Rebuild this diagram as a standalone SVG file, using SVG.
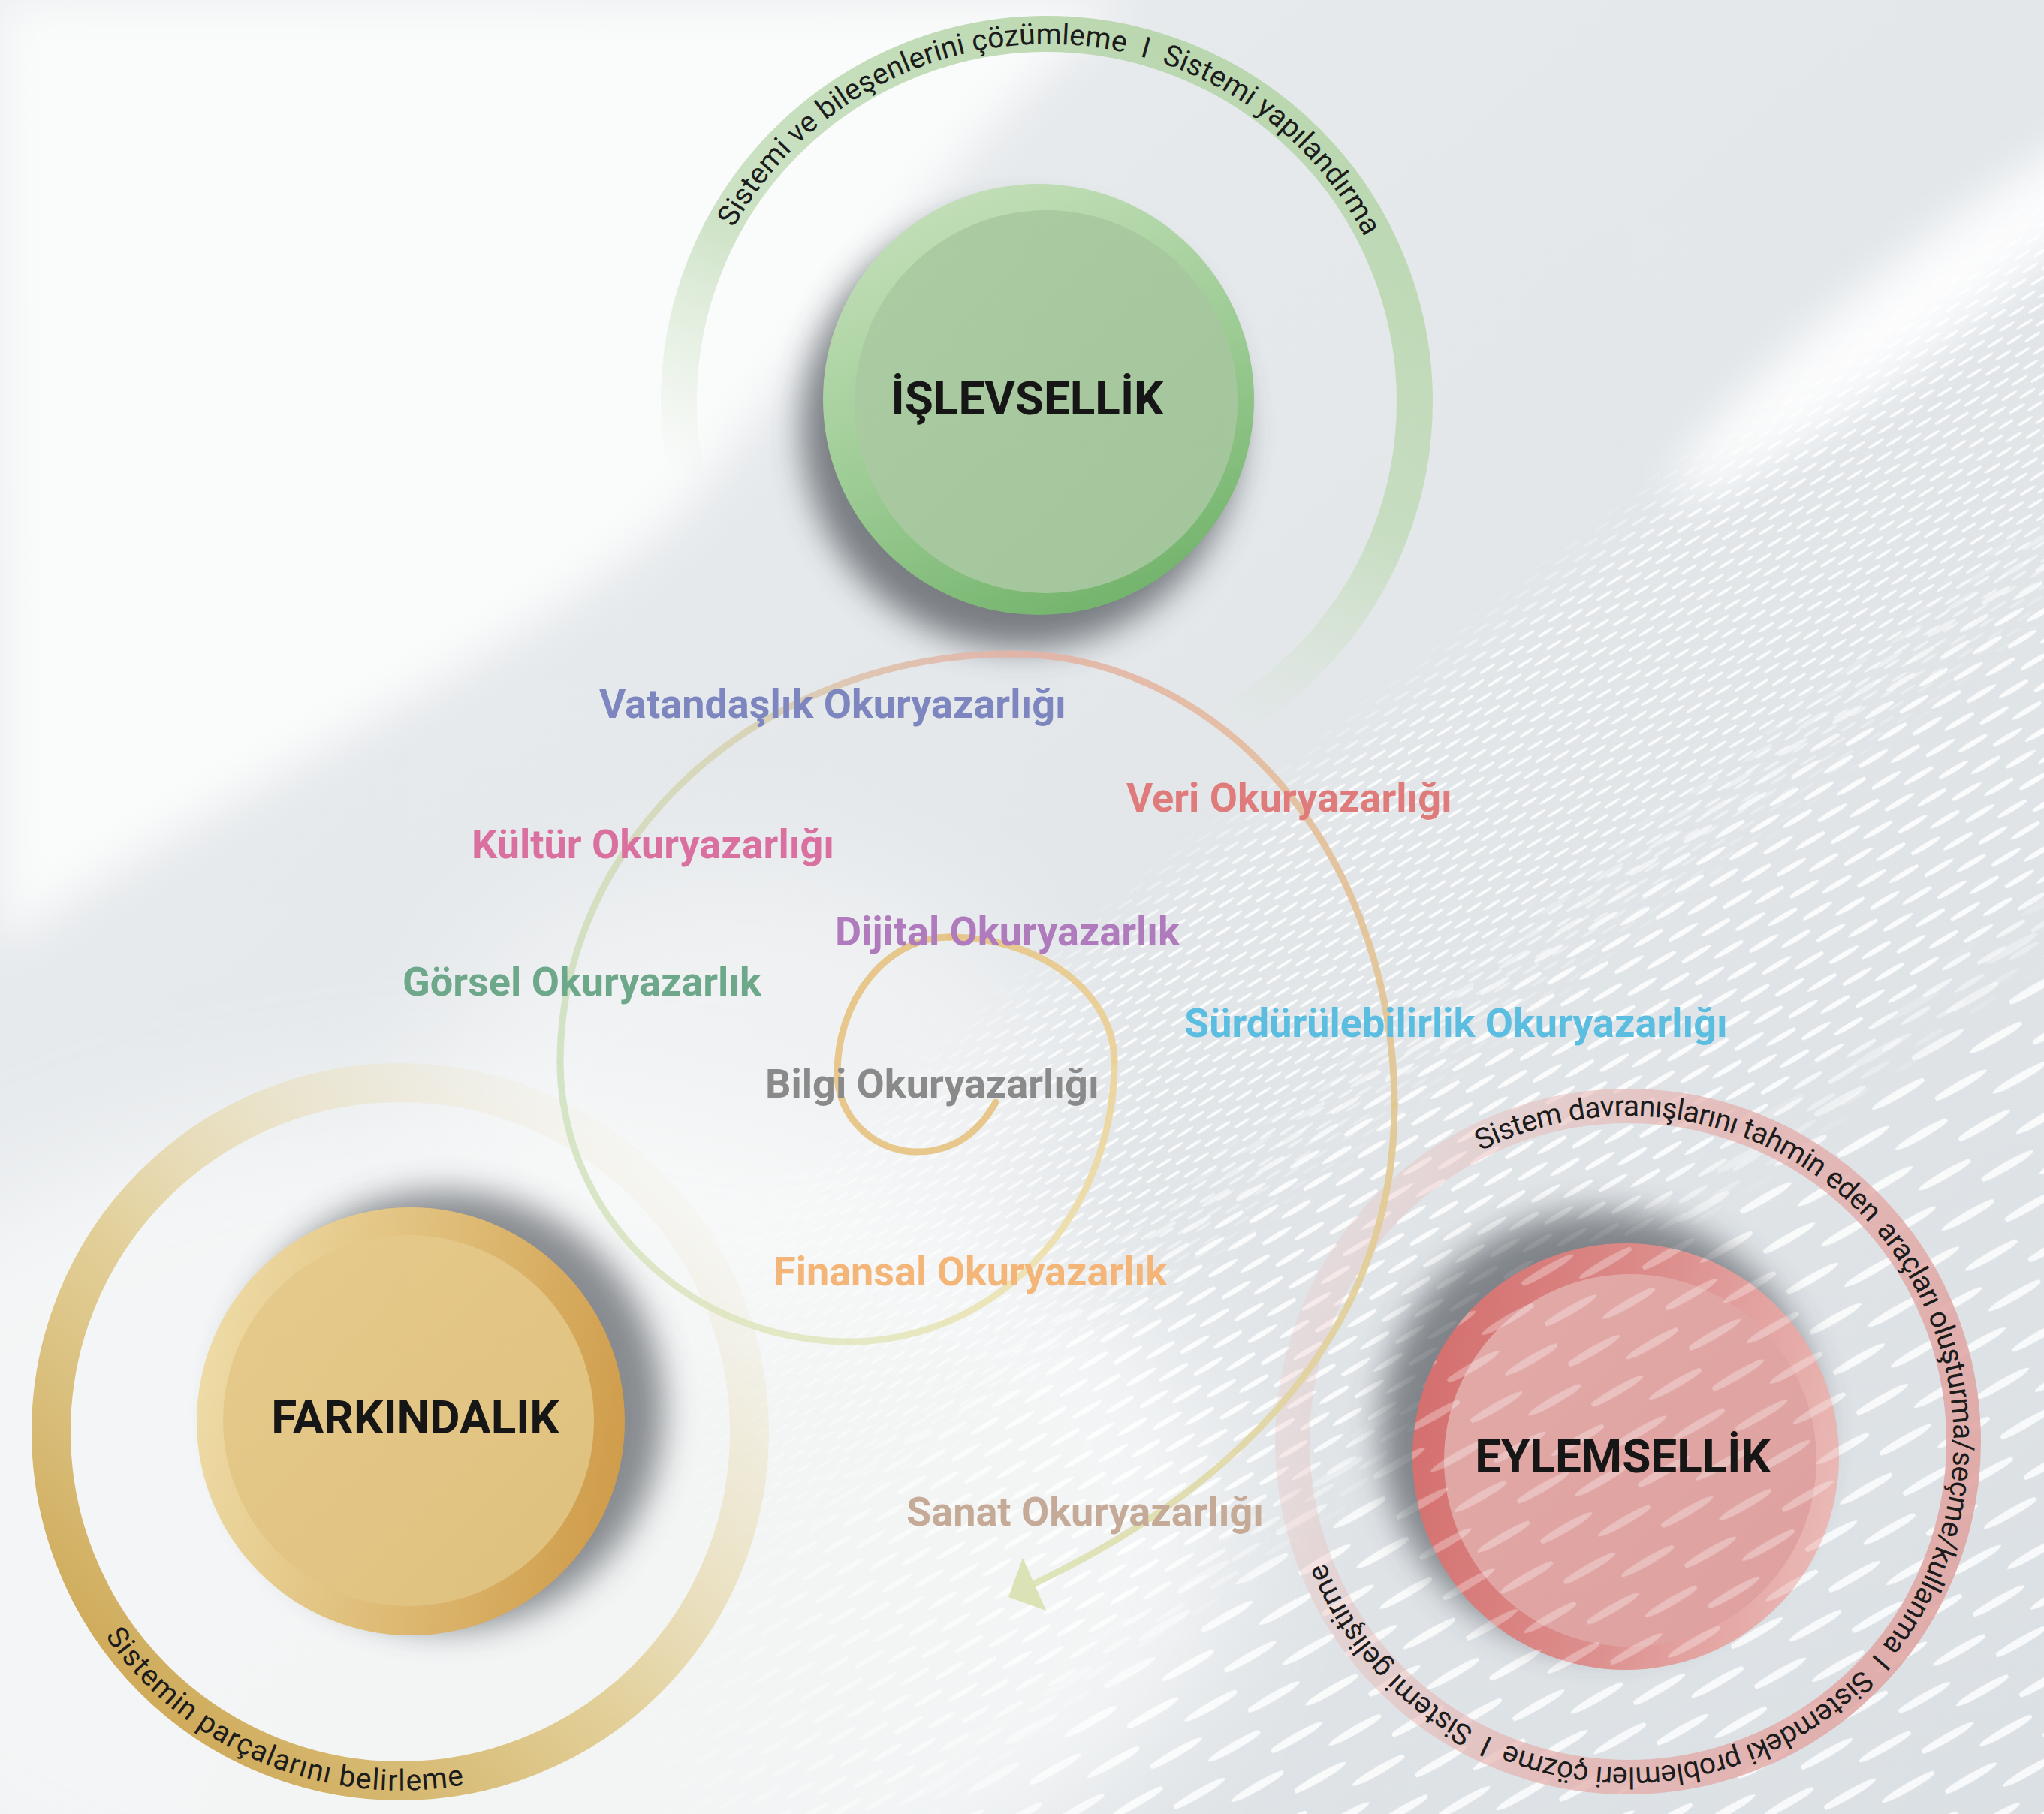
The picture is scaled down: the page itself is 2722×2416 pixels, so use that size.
<svg xmlns="http://www.w3.org/2000/svg" width="2722" height="2416" viewBox="0 0 2722 2416">
<style>
.title{font-family:Roboto,"Liberation Sans",sans-serif;font-weight:700;font-size:62px;fill:#161616;text-anchor:middle}
.ring{font-family:Roboto,"Liberation Sans",sans-serif;font-size:39px;fill:#1c1c1c;white-space:pre}
.lbl{font-family:Roboto,"Liberation Sans",sans-serif;font-weight:700;font-size:54px}
.sp{fill:none;stroke-width:9;stroke-linecap:round;opacity:.9}
</style>
<defs>
<filter id="b30" x="-50%" y="-50%" width="200%" height="200%"><feGaussianBlur stdDeviation="30"/></filter>
<filter id="b80" x="-50%" y="-50%" width="200%" height="200%"><feGaussianBlur stdDeviation="80"/></filter>
<filter id="sh" x="-50%" y="-50%" width="200%" height="200%"><feGaussianBlur stdDeviation="22"/></filter>
<linearGradient id="bg" x1="0" y1="0" x2="1" y2="1"><stop offset="0" stop-color="#eceef0"/><stop offset="0.5" stop-color="#e3e7ea"/><stop offset="1" stop-color="#dbe0e4"/></linearGradient>
<pattern id="dS" width="46" height="20" patternUnits="userSpaceOnUse" patternTransform="rotate(-32)"><ellipse cx="11" cy="5" rx="13" ry="2" fill="#fff"/><ellipse cx="34" cy="15" rx="13" ry="2" fill="#fff"/></pattern>
<pattern id="dM" width="84" height="34" patternUnits="userSpaceOnUse" patternTransform="rotate(-31)"><ellipse cx="21" cy="8.5" rx="24" ry="3.5" fill="#fff"/><ellipse cx="63" cy="25.5" rx="24" ry="3.5" fill="#fff"/></pattern>
<pattern id="dL" width="150" height="62" patternUnits="userSpaceOnUse" patternTransform="rotate(-30)"><ellipse cx="37" cy="15" rx="42" ry="5.5" fill="#fff"/><ellipse cx="112" cy="46" rx="42" ry="5.5" fill="#fff"/></pattern>
<linearGradient id="mgS" gradientUnits="userSpaceOnUse" x1="2000" y1="780" x2="2615" y2="1569"><stop offset="0" stop-color="#fff" stop-opacity="0"/><stop offset="0.08" stop-color="#fff" stop-opacity="0.85"/><stop offset="0.35" stop-color="#fff" stop-opacity="0.85"/><stop offset="0.5" stop-color="#fff" stop-opacity="0"/></linearGradient>
<linearGradient id="mgM" gradientUnits="userSpaceOnUse" x1="2000" y1="780" x2="2615" y2="1569"><stop offset="0.35" stop-color="#fff" stop-opacity="0"/><stop offset="0.45" stop-color="#fff" stop-opacity="0.85"/><stop offset="0.75" stop-color="#fff" stop-opacity="0.85"/><stop offset="0.85" stop-color="#fff" stop-opacity="0"/></linearGradient>
<linearGradient id="mgL" gradientUnits="userSpaceOnUse" x1="2000" y1="780" x2="2615" y2="1569"><stop offset="0.75" stop-color="#fff" stop-opacity="0"/><stop offset="0.86" stop-color="#fff" stop-opacity="0.8"/><stop offset="1" stop-color="#fff" stop-opacity="0.8"/></linearGradient>
<linearGradient id="mgLeft" gradientUnits="userSpaceOnUse" x1="800" y1="0" x2="1500" y2="0"><stop offset="0" stop-color="#fff" stop-opacity="0"/><stop offset="1" stop-color="#fff" stop-opacity="1"/></linearGradient>
<mask id="mS" maskUnits="userSpaceOnUse" x="0" y="0" width="2722" height="2416"><rect width="2722" height="2416" fill="url(#mgS)"/></mask>
<mask id="mM" maskUnits="userSpaceOnUse" x="0" y="0" width="2722" height="2416"><rect width="2722" height="2416" fill="url(#mgM)"/></mask>
<mask id="mL" maskUnits="userSpaceOnUse" x="0" y="0" width="2722" height="2416"><rect width="2722" height="2416" fill="url(#mgL)"/></mask>
<mask id="mLeft" maskUnits="userSpaceOnUse" x="0" y="0" width="2722" height="2416"><rect width="2722" height="2416" fill="url(#mgLeft)"/></mask>
<linearGradient id="gRingG" gradientUnits="userSpaceOnUse" x1="1550" y1="50" x2="1150" y2="900"><stop offset="0" stop-color="#b5d5a9" stop-opacity="0.9"/><stop offset="0.5" stop-color="#bcd9b1" stop-opacity="0.72"/><stop offset="0.85" stop-color="#cfe3c6" stop-opacity="0"/></linearGradient>
<linearGradient id="gRingY" gradientUnits="userSpaceOnUse" x1="200" y1="2350" x2="1000" y2="1500"><stop offset="0" stop-color="#cca550"/><stop offset="0.4" stop-color="#e0cb8e" stop-opacity="0.9"/><stop offset="0.72" stop-color="#ebe0bd" stop-opacity="0.5"/><stop offset="0.95" stop-color="#f0ead6" stop-opacity="0"/></linearGradient>
<linearGradient id="gRingR" gradientUnits="userSpaceOnUse" x1="1700" y1="1800" x2="2650" y2="2050"><stop offset="0" stop-color="#ebc0bd" stop-opacity="0.25"/><stop offset="0.5" stop-color="#e5b1ae" stop-opacity="0.75"/><stop offset="1" stop-color="#dfa4a1" stop-opacity="0.9"/></linearGradient>
<linearGradient id="gRimG" x1="0.2" y1="0.05" x2="0.6" y2="1"><stop offset="0" stop-color="#c3dfb9"/><stop offset="0.55" stop-color="#9ccb93"/><stop offset="1" stop-color="#74b46d"/></linearGradient>
<linearGradient id="gInG" x1="0" y1="0" x2="1" y2="1"><stop offset="0" stop-color="#accca4"/><stop offset="1" stop-color="#a3c59b"/></linearGradient>
<linearGradient id="gRimY" x1="0" y1="0.4" x2="1" y2="0.6"><stop offset="0" stop-color="#eedba6"/><stop offset="0.5" stop-color="#dfbd78"/><stop offset="1" stop-color="#cf9c4a"/></linearGradient>
<linearGradient id="gInY" x1="0" y1="0" x2="1" y2="1"><stop offset="0" stop-color="#e6cb8d"/><stop offset="1" stop-color="#dfc07d"/></linearGradient>
<linearGradient id="gRimR" x1="0" y1="0.4" x2="1" y2="0.6"><stop offset="0" stop-color="#d46f6e"/><stop offset="0.5" stop-color="#dc8e8c"/><stop offset="1" stop-color="#eab9b6"/></linearGradient>
<linearGradient id="gInR" x1="0" y1="0" x2="1" y2="1"><stop offset="0" stop-color="#e2aaa8"/><stop offset="1" stop-color="#dea09e"/></linearGradient>
<clipPath id="cpRed"><circle cx="2165" cy="1940" r="284"/></clipPath>
<linearGradient id="s3" gradientUnits="userSpaceOnUse" x1="1264" y1="1248" x2="1484" y2="1414"><stop offset="0" stop-color="#e6c27f"/><stop offset="1" stop-color="#ebd096"/></linearGradient>
<linearGradient id="s4" gradientUnits="userSpaceOnUse" x1="1484" y1="1414" x2="1131" y2="1787"><stop offset="0" stop-color="#ebd297"/><stop offset="0.5" stop-color="#eee0ab"/><stop offset="1" stop-color="#e3e7bf"/></linearGradient>
<linearGradient id="s5" gradientUnits="userSpaceOnUse" x1="1131" y1="1787" x2="746" y2="1414"><stop offset="0" stop-color="#e3e7bf"/><stop offset="1" stop-color="#cfe2c1"/></linearGradient>
<linearGradient id="s6" gradientUnits="userSpaceOnUse" x1="746" y1="1414" x2="1347" y2="871"><stop offset="0" stop-color="#cfe2c1"/><stop offset="0.55" stop-color="#d6d4b4"/><stop offset="1" stop-color="#e4b3a6"/></linearGradient>
<linearGradient id="s7" gradientUnits="userSpaceOnUse" x1="1347" y1="871" x2="1857" y2="1472"><stop offset="0" stop-color="#e4b3a6"/><stop offset="0.5" stop-color="#e4bd99"/><stop offset="1" stop-color="#e2c68e"/></linearGradient>
<linearGradient id="s8" gradientUnits="userSpaceOnUse" x1="1857" y1="1472" x2="1380" y2="2108"><stop offset="0" stop-color="#e2c68e"/><stop offset="0.5" stop-color="#e2d39e"/><stop offset="1" stop-color="#dbe3b5"/></linearGradient>
<path id="pG" d="M977,304 A477,477 0 0 1 1817,315"/>
<path id="pY" d="M140,2179 A478,478 0 0 0 618,2377"/>
<path id="pR" d="M1972,1533 A434,434 0 1 1 1764,2080"/>
</defs>

<g id="background">
<rect width="2722" height="2416" fill="url(#bg)"/>
<path d="M0,0 H1500 C1300,150 1100,450 900,690 C650,900 300,1050 0,1260 Z" fill="#fafbfb" filter="url(#b30)"/>
<ellipse cx="650" cy="2050" rx="1000" ry="600" fill="#f8f9f9" opacity="0.8" filter="url(#b80)"/>
<ellipse cx="1000" cy="1450" rx="420" ry="300" fill="#fbfbfb" opacity="0.5" filter="url(#b80)"/>
<ellipse cx="2560" cy="400" rx="420" ry="60" transform="rotate(-38 2560 400)" fill="#ffffff" opacity="0.9" filter="url(#b30)"/>
<g mask="url(#mLeft)">
<rect width="2722" height="2416" fill="url(#dS)" mask="url(#mS)"/>
<rect width="2722" height="2416" fill="url(#dM)" mask="url(#mM)"/>
<rect width="2722" height="2416" fill="url(#dL)" mask="url(#mL)"/>
</g>
</g>

<g id="node-islevsellik">
<circle cx="1394" cy="535" r="490" fill="none" stroke="url(#gRingG)" stroke-width="48"/>
<text class="ring" xml:space="preserve"><textPath href="#pG" textLength="1028" lengthAdjust="spacing">Sistemi ve bileşenlerini çözümleme  I  Sistemi yapılandırma</textPath></text>
<circle cx="1360" cy="572" r="292" fill="#3f444c" opacity="0.65" filter="url(#sh)"/>
<circle cx="1383" cy="532" r="287" fill="url(#gRimG)"/>
<circle cx="1393" cy="535" r="255" fill="url(#gInG)"/>
<text class="title" x="1368" y="552">İŞLEVSELLİK</text>
</g>

<g id="node-farkindalik">
<circle cx="533" cy="1907" r="465" fill="none" stroke="url(#gRingY)" stroke-width="52"/>
<text class="ring" font-size="42"><textPath href="#pY" textLength="547" lengthAdjust="spacing">Sistemin parçalarını belirleme</textPath></text>
<circle cx="592" cy="1878" r="292" fill="#3f444c" opacity="0.6" filter="url(#sh)"/>
<circle cx="547" cy="1893" r="285" fill="url(#gRimY)"/>
<circle cx="544" cy="1892" r="247" fill="url(#gInY)"/>
<text class="title" x="553" y="1909">FARKINDALIK</text>
</g>

<g id="node-eylemsellik">
<circle cx="2168" cy="1920" r="447" fill="none" stroke="url(#gRingR)" stroke-width="46"/>
<text class="ring" font-size="37"><textPath href="#pR" startOffset="0" textLength="565" lengthAdjust="spacing">Sistem davranışlarını tahmin eden</textPath></text>
<text class="ring" font-size="37"><textPath href="#pR" startOffset="578" textLength="600" lengthAdjust="spacing">araçları oluşturma/seçme/kullanma</textPath></text>
<text class="ring" font-size="37" xml:space="preserve"><textPath href="#pR" startOffset="1190" textLength="893" lengthAdjust="spacing">I  Sistemdeki problemleri çözme  I  Sistemi geliştirme</textPath></text>
<circle cx="2130" cy="1905" r="292" fill="#3f444c" opacity="0.6" filter="url(#sh)"/>
<circle cx="2165" cy="1940" r="284" fill="url(#gRimR)"/>
<circle cx="2171" cy="1945" r="248" fill="url(#gInR)"/>
<rect x="1870" y="1650" width="600" height="600" fill="url(#dL)" clip-path="url(#cpRed)" opacity="0.3"/>
<text class="title" x="2161" y="1961">EYLEMSELLİK</text>
</g>

<g id="connectors">
<path class="sp" stroke="#e6c27f" d="M1326,1468 C1300,1515 1262,1534 1222,1534 A107,104 0 0 1 1115,1430 A149,182 0 0 1 1264,1248"/>
<path class="sp" stroke="url(#s3)" d="M1264,1248 A220,166 0 0 1 1484,1414"/>
<path class="sp" stroke="url(#s4)" d="M1484,1414 A353,373 0 0 1 1131,1787"/>
<path class="sp" stroke="url(#s5)" d="M1131,1787 A385,373 0 0 1 746,1414"/>
<path class="sp" stroke="url(#s6)" d="M746,1414 A601,543 0 0 1 1347,871"/>
<path class="sp" stroke="url(#s7)" d="M1347,871 A510,601 0 0 1 1857,1472"/>
<path class="sp" stroke="url(#s8)" d="M1857,1472 C1857,1772 1650,1979 1380,2108"/>
<polygon points="1362,2075 1343,2127 1393,2145" fill="#d9e2b2" opacity="0.95"/>
</g>

<g id="label-vatandaslik"><text class="lbl" x="798" y="956" fill="#7d86bf">Vatandaşlık Okuryazarlığı</text></g>
<g id="label-veri"><text class="lbl" x="1500" y="1081" fill="#e07b7b">Veri Okuryazarlığı</text></g>
<g id="label-kultur"><text class="lbl" x="628" y="1143" fill="#d9709f">Kültür Okuryazarlığı</text></g>
<g id="label-dijital"><text class="lbl" x="1112" y="1259" fill="#b07bbd">Dijital Okuryazarlık</text></g>
<g id="label-gorsel"><text class="lbl" x="536" y="1326" fill="#6ea88a">Görsel Okuryazarlık</text></g>
<g id="label-surdurulebilirlik"><text class="lbl" x="1577" y="1381" fill="#5bbde0">Sürdürülebilirlik Okuryazarlığı</text></g>
<g id="label-bilgi"><text class="lbl" x="1019" y="1462" fill="#8a8a8a">Bilgi Okuryazarlığı</text></g>
<g id="label-finansal"><text class="lbl" x="1030" y="1712" fill="#f4b678">Finansal Okuryazarlık</text></g>
<g id="label-sanat"><text class="lbl" x="1207" y="2032" fill="#c6aa98">Sanat Okuryazarlığı</text></g>
</svg>
